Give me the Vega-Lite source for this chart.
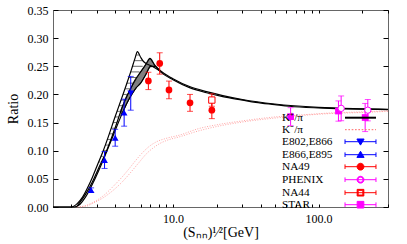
{
  "$schema": "https://vega.github.io/schema/vega-lite/v6.json",
  "width": 335,
  "height": 197,
  "autosize": "none",
  "padding": {"left": 53, "top": 10, "right": 19, "bottom": 37},
  "config": {
    "font": "Liberation Serif",
    "view": {"stroke": "#666666", "strokeWidth": 1},
    "axis": {"domain": false, "grid": false, "labelFont": "Liberation Serif", "labelFontSize": 12, "labelColor": "#000", "tickColor": "#000", "titleFont": "Liberation Serif", "titleFontSize": 14, "titleFontWeight": "normal", "titleColor": "#000"}
  },
  "resolve": {"axis": {"x": "independent", "y": "independent"}},
  "layer": [
    {
      "data": {"values": [
        {"y": 0.08, "xa": 3.09, "xb": 3.17}, {"y": 0.09, "xa": 3.2, "xb": 3.3}, {"y": 0.10, "xa": 3.32, "xb": 3.5},
        {"y": 0.11, "xa": 3.43, "xb": 3.62}, {"y": 0.12, "xa": 3.55, "xb": 3.75}, {"y": 0.13, "xa": 3.67, "xb": 3.87},
        {"y": 0.14, "xa": 3.77, "xb": 4.0}, {"y": 0.15, "xa": 3.89, "xb": 4.13}, {"y": 0.16, "xa": 4.0, "xb": 4.26},
        {"y": 0.17, "xa": 4.13, "xb": 4.37}, {"y": 0.18, "xa": 4.27, "xb": 4.53}, {"y": 0.19, "xa": 4.4, "xb": 4.72},
        {"y": 0.20, "xa": 4.54, "xb": 4.9}, {"y": 0.21, "xa": 4.69, "xb": 5.1}, {"y": 0.22, "xa": 4.83, "xb": 5.35},
        {"y": 0.23, "xa": 4.96, "xb": 5.6}, {"y": 0.24, "xa": 5.13, "xb": 5.9}, {"y": 0.25, "xa": 5.27, "xb": 6.2},
        {"y": 0.26, "xa": 5.43, "xb": 6.2}, {"y": 0.27, "xa": 5.6, "xb": 5.85}
      ]},
      "mark": {"type": "rule", "color": "#000", "strokeWidth": 0.6},
      "encoding": {
        "x": {"field": "xa", "type": "quantitative", "scale": {"type": "log", "domain": [1.5, 300], "nice": false},
              "axis": {"values": [2,3,4,5,6,7,8,9,10,20,30,40,50,60,70,80,90,100,200,300], "labelExpr": "datum.value==10 ? '10.0' : datum.value==100 ? '100.0' : ''", "tickSize": -3, "labelPadding": 9, "title": "(Sₙₙ)¹⁄²[GeV]", "titlePadding": 1,
                       "encode": {"ticks": {"update": {"y2": {"signal": "(datum.value==10||datum.value==100) ? -6 : -3"}}}}}},
        "x2": {"field": "xb"},
        "y": {"field": "y", "type": "quantitative", "scale": {"domain": [0, 0.35], "nice": false},
              "axis": {"values": [0,0.05,0.1,0.15,0.2,0.25,0.3,0.35], "format": ".2f", "tickSize": -5, "labelPadding": 10, "title": "Ratio", "titlePadding": 7}}
      }
    },
    {
      "data": {"values": [
        {"x": 4.4, "lo": 0.162, "hi": 0.173}, {"x": 4.8, "lo": 0.183, "hi": 0.197}, {"x": 5.2, "lo": 0.199, "hi": 0.213},
        {"x": 5.6, "lo": 0.212, "hi": 0.228}, {"x": 6.0, "lo": 0.22, "hi": 0.24}, {"x": 6.5, "lo": 0.235, "hi": 0.253},
        {"x": 6.95, "lo": 0.249, "hi": 0.264}, {"x": 7.5, "lo": 0.25, "hi": 0.252}
      ]},
      "mark": {"type": "area", "fill": "#808080", "stroke": "#000", "strokeWidth": 0.8},
      "encoding": {
        "x": {"field": "x", "type": "quantitative", "axis": null},
        "y": {"field": "hi", "type": "quantitative", "axis": null},
        "y2": {"field": "lo"}
      }
    },
    {
      "data": {"values": [
        {"curve": "A", "x": 1.5, "y": 0}, {"curve": "A", "x": 2.0, "y": 0}, {"curve": "A", "x": 2.2, "y": 0.006}, {"curve": "A", "x": 2.4, "y": 0.018},
        {"curve": "A", "x": 2.6, "y": 0.035}, {"curve": "A", "x": 2.8, "y": 0.053}, {"curve": "A", "x": 3.0, "y": 0.072}, {"curve": "A", "x": 3.3, "y": 0.098},
        {"curve": "A", "x": 3.6, "y": 0.125}, {"curve": "A", "x": 4.0, "y": 0.16}, {"curve": "A", "x": 4.4, "y": 0.19}, {"curve": "A", "x": 4.8, "y": 0.218},
        {"curve": "A", "x": 5.2, "y": 0.245}, {"curve": "A", "x": 5.5, "y": 0.265}, {"curve": "A", "x": 5.7, "y": 0.276}, {"curve": "A", "x": 6.0, "y": 0.266},
        {"curve": "A", "x": 6.3, "y": 0.258}, {"curve": "A", "x": 7.2, "y": 0.25}, {"curve": "A", "x": 8.2, "y": 0.241},
        {"curve": "B", "x": 2.2, "y": 0.002}, {"curve": "B", "x": 2.5, "y": 0.022}, {"curve": "B", "x": 2.8, "y": 0.045}, {"curve": "B", "x": 3.1, "y": 0.07},
        {"curve": "B", "x": 3.5, "y": 0.1}, {"curve": "B", "x": 4.0, "y": 0.14}, {"curve": "B", "x": 4.5, "y": 0.178}, {"curve": "B", "x": 5.0, "y": 0.205},
        {"curve": "B", "x": 5.5, "y": 0.226}, {"curve": "B", "x": 6.0, "y": 0.24}, {"curve": "B", "x": 6.5, "y": 0.253}, {"curve": "B", "x": 6.95, "y": 0.264},
        {"curve": "B", "x": 7.5, "y": 0.252}, {"curve": "B", "x": 8.2, "y": 0.242}, {"curve": "B", "x": 10, "y": 0.228}, {"curve": "B", "x": 13, "y": 0.214},
        {"curve": "B", "x": 17, "y": 0.205}, {"curve": "B", "x": 22, "y": 0.198}, {"curve": "B", "x": 30, "y": 0.191}, {"curve": "B", "x": 50, "y": 0.183},
        {"curve": "B", "x": 100, "y": 0.177}, {"curve": "B", "x": 200, "y": 0.1745}, {"curve": "B", "x": 300, "y": 0.1735},
        {"curve": "C", "x": 1.5, "y": 0}, {"curve": "C", "x": 2.1, "y": 0}, {"curve": "C", "x": 2.3, "y": 0.005}, {"curve": "C", "x": 2.5, "y": 0.017},
        {"curve": "C", "x": 2.85, "y": 0.045}, {"curve": "C", "x": 3.34, "y": 0.085}, {"curve": "C", "x": 3.9, "y": 0.128}, {"curve": "C", "x": 4.46, "y": 0.165},
        {"curve": "C", "x": 5.07, "y": 0.195}, {"curve": "C", "x": 5.6, "y": 0.212}, {"curve": "C", "x": 6.0, "y": 0.22}, {"curve": "C", "x": 6.5, "y": 0.235},
        {"curve": "C", "x": 7.0, "y": 0.25}, {"curve": "C", "x": 7.5, "y": 0.25}, {"curve": "C", "x": 8.2, "y": 0.24}, {"curve": "C", "x": 10, "y": 0.226},
        {"curve": "C", "x": 13, "y": 0.212}, {"curve": "C", "x": 17, "y": 0.203}, {"curve": "C", "x": 22, "y": 0.196}, {"curve": "C", "x": 30, "y": 0.19},
        {"curve": "C", "x": 37, "y": 0.186}, {"curve": "C", "x": 50, "y": 0.182}, {"curve": "C", "x": 63, "y": 0.179}, {"curve": "C", "x": 100, "y": 0.176},
        {"curve": "C", "x": 150, "y": 0.1745}, {"curve": "C", "x": 200, "y": 0.1738}, {"curve": "C", "x": 300, "y": 0.173}
      ]},
      "transform": [{"calculate": "'K⁺/π'", "as": "series"}],
      "mark": {"type": "line", "strokeWidth": 1.2, "interpolate": "monotone"},
      "encoding": {
        "x": {"field": "x", "type": "quantitative", "axis": null},
        "y": {"field": "y", "type": "quantitative", "axis": null},
        "detail": {"field": "curve"},
        "color": {"field": "series", "type": "nominal",
          "scale": {"domain": ["K⁺/π", "K⁻/π", "E802,E866", "E866,E895", "NA49", "PHENIX", "NA44", "STAR"],
                    "range": ["#000000", "#ff6666", "#0000ff", "#0000ff", "#ff0000", "#ff00ff", "#ff0000", "#ff00ff"]},
          "legend": {
            "title": null, "orient": "none", "legendX": 217.7, "legendY": 102.05, "padding": 0, "rowPadding": 0,
            "symbolSize": 81, "symbolStrokeWidth": 1, "labelFont": "Liberation Serif", "labelFontSize": 11.3, "labelColor": "#000",
            "labelAlign": "left", "labelOffset": 0, "labelLimit": 200,
            "encode": {"symbols": {"update": {
              "shape": {"signal": "datum.value=='K⁺/π' ? 'M15.26,0H22.14' : datum.value=='K⁻/π' ? 'M15.26,0H15.63M16,0H16.37M16.74,0H17.11M17.48,0H17.85M18.22,0H18.59M18.96,0H19.33M19.7,0H20.07M20.44,0H20.81M21.18,0H21.55M21.92,0H22.14' : datum.value=='E802,E866' ? 'M15.26,0H22.14M15.26,-0.51V0.51M22.14,-0.51V0.51M17.9,-0.6H19.5L18.7,0.76Z' : datum.value=='E866,E895' ? 'M15.26,0H22.14M15.26,-0.51V0.51M22.14,-0.51V0.51M18.7,-0.76L19.5,0.6H17.9Z' : datum.value=='NA49' ? 'M15.26,0H22.14M15.26,-0.51V0.51M22.14,-0.51V0.51M19.46,0A0.76,0.76,0,1,1,17.94,0A0.76,0.76,0,1,1,19.46,0Z' : datum.value=='PHENIX' ? 'M15.26,0H22.14M15.26,-0.51V0.51M22.14,-0.51V0.51M19.46,0A0.76,0.76,0,1,1,17.94,0A0.76,0.76,0,1,1,19.46,0ZM19.25,0A0.55,0.55,0,1,0,18.15,0A0.55,0.55,0,1,0,19.25,0Z' : datum.value=='NA44' ? 'M15.26,0H22.14M15.26,-0.51V0.51M22.14,-0.51V0.51M17.96,-0.74H19.44V0.74H17.96ZM18.18,-0.52V0.52H19.22V-0.52Z' : 'M15.26,0H22.14M15.26,-0.51V0.51M22.14,-0.51V0.51M17.96,-0.74H19.44V0.74H17.96Z'"},
              "fill": {"signal": "scale('color', datum.value)"},
              "stroke": {"signal": "scale('color', datum.value)"},
              "strokeWidth": {"signal": "datum.value=='K⁺/π' ? 2 : 1"},
              "opacity": {"value": 1}
            }}}
          }}
      }
    },
    {
      "data": {"values": [
        {"curve": "L", "x": 2.2, "y": 0}, {"curve": "L", "x": 2.5, "y": 0.001}, {"curve": "L", "x": 2.84, "y": 0.007}, {"curve": "L", "x": 3.3, "y": 0.016},
        {"curve": "L", "x": 3.9, "y": 0.03}, {"curve": "L", "x": 4.5, "y": 0.045}, {"curve": "L", "x": 5.07, "y": 0.06}, {"curve": "L", "x": 5.8, "y": 0.078},
        {"curve": "L", "x": 6.6, "y": 0.095}, {"curve": "L", "x": 7.5, "y": 0.107}, {"curve": "L", "x": 8.15, "y": 0.113}, {"curve": "L", "x": 9, "y": 0.118},
        {"curve": "L", "x": 11.2, "y": 0.125}, {"curve": "L", "x": 14.9, "y": 0.135}, {"curve": "L", "x": 20, "y": 0.143}, {"curve": "L", "x": 30, "y": 0.151},
        {"curve": "L", "x": 50, "y": 0.158}, {"curve": "L", "x": 80, "y": 0.163}, {"curve": "L", "x": 120, "y": 0.166}, {"curve": "L", "x": 200, "y": 0.168},
        {"curve": "L", "x": 300, "y": 0.17},
        {"curve": "U", "x": 2.3, "y": 0}, {"curve": "U", "x": 2.6, "y": 0.004}, {"curve": "U", "x": 3.0, "y": 0.012}, {"curve": "U", "x": 3.4, "y": 0.022},
        {"curve": "U", "x": 3.9, "y": 0.037}, {"curve": "U", "x": 4.5, "y": 0.054}, {"curve": "U", "x": 5.07, "y": 0.07}, {"curve": "U", "x": 5.6, "y": 0.084},
        {"curve": "U", "x": 6.1, "y": 0.095}, {"curve": "U", "x": 6.9, "y": 0.108}, {"curve": "U", "x": 7.73, "y": 0.116}, {"curve": "U", "x": 9, "y": 0.122},
        {"curve": "U", "x": 11.2, "y": 0.128}, {"curve": "U", "x": 14.9, "y": 0.139}, {"curve": "U", "x": 20, "y": 0.146}, {"curve": "U", "x": 30, "y": 0.153},
        {"curve": "U", "x": 50, "y": 0.16}, {"curve": "U", "x": 80, "y": 0.164}, {"curve": "U", "x": 120, "y": 0.167}, {"curve": "U", "x": 200, "y": 0.169},
        {"curve": "U", "x": 300, "y": 0.171}
      ]},
      "transform": [{"calculate": "'K⁻/π'", "as": "series"}],
      "mark": {"type": "line", "strokeWidth": 0.8, "strokeDash": [1, 1.5], "interpolate": "monotone", "opacity": 0.75},
      "encoding": {
        "x": {"field": "x", "type": "quantitative", "axis": null},
        "y": {"field": "y", "type": "quantitative", "axis": null},
        "detail": {"field": "curve"},
        "color": {"field": "series", "type": "nominal"}
      }
    },
    {
      "data": {"values": [
        {"series": "E802,E866", "x": 5.13, "y": 0.202, "err": 0.03},
        {"series": "E866,E895", "x": 2.74, "y": 0.030, "err": 0.004},
        {"series": "E866,E895", "x": 3.39, "y": 0.0835, "err": 0.015},
        {"series": "E866,E895", "x": 4.01, "y": 0.123, "err": 0.015},
        {"series": "E866,E895", "x": 4.62, "y": 0.1676, "err": 0.024},
        {"series": "NA49", "x": 6.78, "y": 0.224, "err": 0.0154},
        {"series": "NA49", "x": 8.11, "y": 0.255, "err": 0.019},
        {"series": "NA49", "x": 9.39, "y": 0.208, "err": 0.0157},
        {"series": "NA49", "x": 13.1, "y": 0.185, "err": 0.015},
        {"series": "NA49", "x": 18.5, "y": 0.172, "err": 0.015},
        {"series": "PHENIX", "x": 143, "y": 0.1753, "err": 0.022},
        {"series": "PHENIX", "x": 218, "y": 0.172, "err": 0.019},
        {"series": "NA44", "x": 18.5, "y": 0.19, "err": 0.011},
        {"series": "STAR", "x": 64.3, "y": 0.1605, "err": 0.016},
        {"series": "STAR", "x": 137, "y": 0.1705, "err": 0.018},
        {"series": "STAR", "x": 209, "y": 0.159, "err": 0.025}
      ]},
      "layer": [
        {
          "mark": {"type": "errorbar", "ticks": {"size": 6, "thickness": 1}, "rule": {"strokeWidth": 1}},
          "encoding": {
            "x": {"field": "x", "type": "quantitative", "axis": null},
            "y": {"field": "y", "type": "quantitative", "axis": null},
            "yError": {"field": "err"},
            "color": {"field": "series", "type": "nominal"}
          }
        },
        {
          "transform": [{"filter": "datum.series!='PHENIX' && datum.series!='NA44'"}],
          "mark": {"type": "point", "filled": true, "opacity": 1, "size": 45},
          "encoding": {
            "x": {"field": "x", "type": "quantitative", "axis": null},
            "y": {"field": "y", "type": "quantitative", "axis": null},
            "color": {"field": "series", "type": "nominal"},
            "shape": {"field": "series", "type": "nominal", "legend": null,
              "scale": {"domain": ["E802,E866", "E866,E895", "NA49", "PHENIX", "NA44", "STAR"], "range": ["triangle-down", "triangle-up", "circle", "circle", "square", "square"]}}
          }
        },
        {
          "transform": [{"filter": "datum.series=='PHENIX' || datum.series=='NA44'"}],
          "mark": {"type": "point", "filled": false, "fill": "#ffffff", "fillOpacity": 1, "strokeWidth": 1, "opacity": 1, "size": 40},
          "encoding": {
            "x": {"field": "x", "type": "quantitative", "axis": null},
            "y": {"field": "y", "type": "quantitative", "axis": null},
            "stroke": {"field": "series", "type": "nominal", "scale": {"domain": ["PHENIX", "NA44"], "range": ["#ff00ff", "#ff0000"]}, "legend": null},
            "shape": {"field": "series", "type": "nominal", "legend": null}
          }
        }
      ]
    },
    {
      "data": {"values": [{"x": 10, "y": 0.1}]},
      "mark": {"type": "point", "opacity": 0},
      "encoding": {
        "x": {"field": "x", "type": "quantitative",
              "axis": {"orient": "top", "values": [2,3,4,5,6,7,8,9,10,20,30,40,50,60,70,80,90,100,200,300], "labels": false, "title": null, "tickSize": -3,
                       "encode": {"ticks": {"update": {"y2": {"signal": "(datum.value==10||datum.value==100) ? 6 : 3"}}}}}},
        "y": {"field": "y", "type": "quantitative",
              "axis": {"orient": "right", "values": [0,0.05,0.1,0.15,0.2,0.25,0.3,0.35], "labels": false, "title": null, "tickSize": -5}}
      }
    }
  ]
}
